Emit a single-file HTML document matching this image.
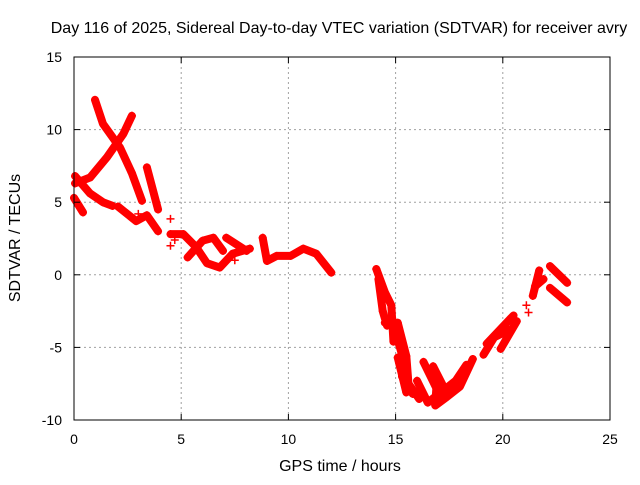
<!DOCTYPE html>
<html><head><meta charset="utf-8"><style>
html,body{margin:0;padding:0;background:#fff}
svg text{font-family:"Liberation Sans",sans-serif;font-size:14px;fill:#000}
svg text.big{font-size:16px}
</style></head><body>
<svg id="chart" width="640" height="480" xmlns="http://www.w3.org/2000/svg">
<rect width="640" height="480" fill="#fff"/>
<g id="grid"></g>
<g id="series"></g>
<rect x="74" y="57" width="536" height="363" fill="none" stroke="#000" stroke-width="1"/>
<g id="ticks"></g>
<text class="big" x="339" y="33" text-anchor="middle">Day 116 of 2025, Sidereal Day-to-day VTEC variation (SDTVAR) for receiver avry</text>
<text class="big" x="340" y="471" text-anchor="middle">GPS time / hours</text>
<text class="big" x="20" y="238" text-anchor="middle" transform="rotate(-90 20 238)">SDTVAR / TECUs</text>
</svg>
<script>
const xTicks=[0,5,10,15,20,25];
const yTicks=[-10,-5,0,5,10,15];
const trackA=[[0.98,12.05],[1.35,10.4],[2.15,8.75],[2.7,7.0],[3.17,5.1]];
const trackB=[[0.05,6.3],[0.75,6.7],[1.54,8.1],[2.3,9.7],[2.7,10.95]];
const trackA2=[[3.4,7.4],[3.92,4.5]];
const trackC=[[0.05,6.8],[0.75,5.6],[1.35,5.0],[1.8,4.75]];
const trackD=[[0.0,5.3],[0.42,4.3]];
const trackE=[[2.05,4.7],[2.9,3.7],[3.4,4.1],[3.92,3.0]];
const trackF=[[4.5,2.8],[5.1,2.8],[5.7,1.9],[6.2,0.8],[6.8,0.5],[7.4,1.45],[8.2,1.8]];
const trackG=[[5.3,1.2],[6.0,2.35],[6.5,2.55],[6.95,1.65]];
const trackH=[[7.1,2.55],[8.05,1.65]];
const trackI=[[8.8,2.55],[9.0,0.95],[9.45,1.3],[10.1,1.3],[10.7,1.8],[11.3,1.45],[12.0,0.15]];
const trackJ=[[14.1,0.4],[14.5,-1.2],[14.8,-2.1],[14.9,-4.6]];
const trackJ2=[[14.2,-0.3],[14.4,-2.5],[14.6,-3.5]];
const trackK=[[14.5,-3.3],[15.1,-3.3],[15.5,-5.6],[15.6,-7.5],[16.1,-8.55]];
const trackK2=[[15.0,-4.0],[15.3,-5.5],[15.3,-7.0],[15.8,-8.2]];
const trackL=[[15.1,-5.7],[15.5,-8.1]];
const trackM=[[16.3,-6.0],[16.9,-7.8],[16.85,-9.0],[17.4,-8.4],[18.0,-7.7],[18.6,-5.8]];
const trackM2=[[16.0,-7.3],[16.5,-8.8],[17.2,-8.0],[17.8,-7.3],[18.3,-6.2]];
const trackN=[[16.75,-6.3],[17.3,-7.9]];
const trackO=[[19.25,-4.75],[20.5,-2.8]];
const trackO2=[[19.1,-5.5],[19.6,-4.3],[20.3,-3.8]];
const trackP=[[19.9,-5.1],[20.65,-3.2]];
const trackQ=[[21.4,-1.45],[21.7,0.3]];
const trackQ2=[[21.5,-0.8],[21.9,-0.3]];
const trackR=[[22.2,0.6],[23.0,-0.55]];
const trackS=[[22.2,-0.9],[23.0,-1.9]];
const singles=[[4.5,3.85],[4.5,2.0],[4.7,2.4],[21.1,-2.1],[21.2,-2.6],[7.5,1.0],[3.0,4.2]];
const tracks=[trackA,trackB,trackA2,trackC,trackD,trackE,trackF,trackG,trackH,trackI,trackJ,trackJ2,trackK,trackK2,trackL,trackM,trackM2,trackN,trackO,trackO2,trackP,trackQ,trackQ2,trackR,trackS];
const NS="http://www.w3.org/2000/svg";
const X0=74,X1=610,Y0=420,Y1=57;
function sx(v){return X0+(v-0)/(25-0)*(X1-X0);}
function sy(v){return Y0-(v+10)/(15+10)*(Y0-Y1);}
function mk(t,a,p){const e=document.createElementNS(NS,t);for(const k in a)e.setAttribute(k,a[k]);p.appendChild(e);return e;}
const grid=document.getElementById('grid'),ticks=document.getElementById('ticks'),ser=document.getElementById('series');
xTicks.forEach(v=>{
  if(v>0&&v<25){const l=mk('line',{x1:sx(v),x2:sx(v),y1:Y1,y2:Y0,stroke:'#a0a0a0','stroke-dasharray':'2,3'},grid);
  
  }
  mk('line',{x1:sx(v),x2:sx(v),y1:Y0,y2:Y0-6,stroke:'#000'},ticks);
  mk('line',{x1:sx(v),x2:sx(v),y1:Y1,y2:Y1+6,stroke:'#000'},ticks);
  const t=mk('text',{x:sx(v),y:Y0+24,'text-anchor':'middle'},ticks);t.textContent=v;
  
  
});
yTicks.forEach(v=>{
  if(v>-10&&v<15){const l=mk('line',{x1:X0,x2:X1,y1:sy(v),y2:sy(v),stroke:'#a0a0a0','stroke-dasharray':'2,3'},grid);
  
  }
  mk('line',{x1:X0,x2:X0+6,y1:sy(v),y2:sy(v),stroke:'#000'},ticks);
  mk('line',{x1:X1,x2:X1-6,y1:sy(v),y2:sy(v),stroke:'#000'},ticks);
  const t=mk('text',{x:X0-12,y:sy(v)+5,'text-anchor':'end'},ticks);t.textContent=v;
  
  
});
function plus(p){
  const g=mk('path',{d:`M${sx(p[0])-4},${sy(p[1])}h8M${sx(p[0])},${sy(p[1])-4}v8`,stroke:'#f00','stroke-width':1.5},ser);
  
  
}
tracks.forEach(tr=>{
  const pl=mk('polyline',{points:tr.map(p=>sx(p[0])+','+sy(p[1])).join(' '),fill:'none',stroke:'#f00','stroke-width':8,'stroke-linejoin':'round','stroke-linecap':'round'},ser);
  
  
  tr.forEach(plus);
});
singles.forEach(plus);
</script>
</body></html>
